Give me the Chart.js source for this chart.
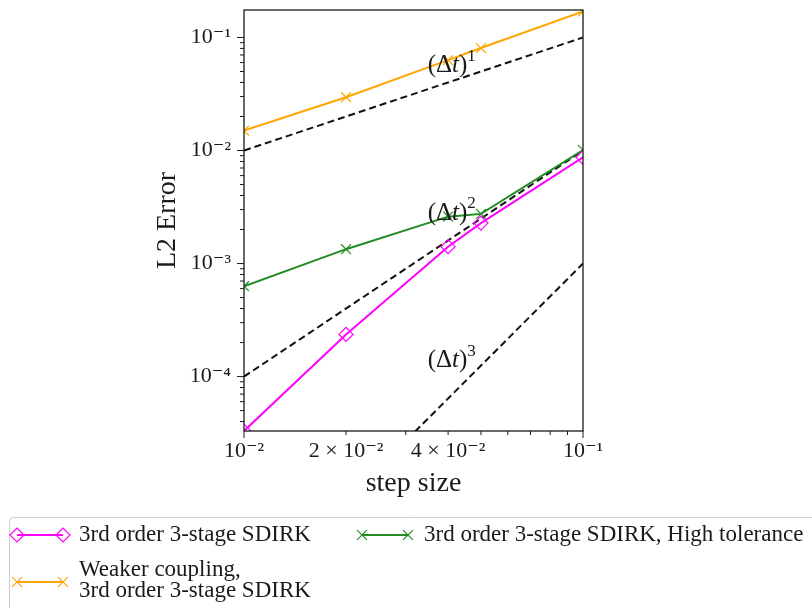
<!DOCTYPE html>
<html lang="en">
<head>
<meta charset="UTF-8">
<title>L2 error vs step size</title>
<script src="https://cdn.jsdelivr.net/npm/chart.js"></script>
<style>
  html, body { margin: 0; padding: 0; background: #fff; }
  #wrap { width: 812px; height: 608px; }
</style>
</head>
<body>
<div id="wrap"><canvas id="errChart" width="812" height="608"></canvas></div>
<script>
// step sizes of the runs and the measured L2 errors
const stepSizes = [0.01, 0.02, 0.04, 0.05, 0.1];
const errSdirk = [3.3e-5, 2.36e-4, 1.41e-3, 2.28e-3, 8.7e-3];
const errWeak = [0.015, 0.0296, 0.063, 0.0806, 0.17];
const errHighTol = [6.3e-4, 1.34e-3, 2.6e-3, 2.75e-3, 0.0101];

// reference slopes (dt)^1, (dt)^2, (dt)^3
const refX = [0.01, 0.1];
const refOrder1 = [0.01, 0.1];
const refOrder2 = [1e-4, 1e-2];
const refOrder3 = [1e-6, 1e-3];
const refLabelX = [0.041, 0.041, 0.041];
const refLabelY = [0.057, 2.8e-3, 1.4e-4];
const refLabelPow = ['1', '2', '3'];

// axis ranges and ticks
const xRange = [0.01, 0.1];
const yRange = [3.3e-5, 0.175];
const xTickVals = [0.01, 0.02, 0.03, 0.04, 0.05, 0.06, 0.07, 0.08, 0.09, 0.1];
const xTickText = ['10⁻²', '2 × 10⁻²', '', '4 × 10⁻²', '', '', '', '', '', '10⁻¹'];
const yDecades = [1e-5, 1e-4, 1e-3, 1e-2, 1e-1];
const yDecadeText = ['10⁻⁵', '10⁻⁴', '10⁻³', '10⁻²', '10⁻¹'];

const SERIF = '"Liberation Serif", "DejaVu Serif", serif';
const INK = '#1a1a1a';

const yTickVals = [];
const yTickText = [];
yDecades.forEach((d, i) => {
  for (let m = 1; m <= 9; m++) {
    const v = d * m;
    if (v >= yRange[0] && v <= yRange[1]) {
      yTickVals.push(v);
      yTickText.push(m === 1 ? yDecadeText[i] : '');
    }
  }
});

const isDecade = v => Math.abs(Math.log10(v) - Math.round(Math.log10(v))) < 1e-9;
const toXY = (xs, ys) => xs.map((x, i) => ({ x: x, y: ys[i] }));

const refLine = (ys) => ({
  label: '', data: toXY(refX, ys), borderColor: '#111', borderWidth: 2,
  borderDash: [7, 4], pointRadius: 0, inLegend: false
});

// frame, tick marks, slope labels and the legend box
const decorations = {
  id: 'decorations',
  afterDatasetsDraw(chart) {
    const { ctx, chartArea: a, scales: { x, y } } = chart;
    ctx.save();

    // slope labels
    refLabelPow.forEach((p, i) => {
      drawOrderLabel(ctx, x.getPixelForValue(refLabelX[i]), y.getPixelForValue(refLabelY[i]), p);
    });

    // frame
    ctx.strokeStyle = INK;
    ctx.lineWidth = 1.3;
    ctx.strokeRect(a.left, a.top, a.right - a.left, a.bottom - a.top);

    // ticks pointing outwards
    ctx.lineWidth = 1;
    ctx.beginPath();
    x.ticks.forEach(t => {
      const px = x.getPixelForValue(t.value);
      const len = isDecade(t.value) ? 7 : 4;
      ctx.moveTo(px, a.bottom);
      ctx.lineTo(px, a.bottom + len);
    });
    y.ticks.forEach(t => {
      const py = y.getPixelForValue(t.value);
      const len = isDecade(t.value) ? 7 : 4;
      ctx.moveTo(a.left, py);
      ctx.lineTo(a.left - len, py);
    });
    ctx.stroke();

    drawLegend(ctx, chart);
    ctx.restore();
  }
};

function drawOrderLabel(ctx, cx, cy, pow) {
  const parts = [
    ['(Δ', '25px ' + SERIF, 0],
    ['t', 'italic 25px ' + SERIF, 0],
    [')', '25px ' + SERIF, 0],
    [pow, '17px ' + SERIF, -9]
  ];
  let total = 0;
  parts.forEach(p => { ctx.font = p[1]; total += ctx.measureText(p[0]).width; });
  let px = cx - total / 2;
  ctx.fillStyle = INK;
  ctx.textBaseline = 'middle';
  ctx.textAlign = 'left';
  parts.forEach(p => {
    ctx.font = p[1];
    ctx.fillText(p[0], px, cy + p[2]);
    px += ctx.measureText(p[0]).width;
  });
}

function drawLegend(ctx, chart) {
  // box runs past the right and bottom edges
  ctx.strokeStyle = '#cccccc';
  ctx.lineWidth = 1;
  ctx.beginPath();
  ctx.roundRect(9.5, 517.5, 840, 130, 4);
  ctx.stroke();

  const slots = [
    { x: 17, y: 535 },
    { x: 362, y: 535 },
    { x: 17, y: 582 }
  ];
  const items = chart.data.datasets.filter(d => d.inLegend !== false);
  items.forEach((ds, i) => {
    const s = slots[i];
    const x1 = s.x, x2 = s.x + 46;
    ctx.strokeStyle = ds.borderColor;
    ctx.lineWidth = 2;
    ctx.setLineDash([]);
    ctx.beginPath();
    ctx.moveTo(x1, s.y);
    ctx.lineTo(x2, s.y);
    ctx.stroke();
    ctx.lineWidth = ds.pointBorderWidth;
    ctx.fillStyle = 'rgba(0,0,0,0)';
    [x1, x2].forEach(px => {
      Chart.helpers.drawPoint(ctx, {
        pointStyle: ds.pointStyle, radius: ds.pointRadius, rotation: 0,
        borderWidth: ds.pointBorderWidth
      }, px, s.y);
    });
    const lines = ds.label.split('\n');
    ctx.fillStyle = INK;
    ctx.font = '23px ' + SERIF;
    ctx.textAlign = 'left';
    ctx.textBaseline = 'middle';
    const lh = 21;
    lines.forEach((ln, k) => {
      ctx.fillText(ln, x2 + 16, s.y - (lines.length - 1) * lh / 2 + k * lh - (lines.length - 1) * 1.5);
    });
  });
}

new Chart(document.getElementById('errChart'), {
  type: 'line',
  data: {
    datasets: [
      {
        label: '3rd order 3-stage SDIRK', data: toXY(stepSizes, errSdirk),
        borderColor: '#ff00ff', borderWidth: 2, pointStyle: 'rectRot', pointRadius: 7,
        pointBorderWidth: 1.2, pointBorderColor: '#ff00ff', pointBackgroundColor: 'rgba(0,0,0,0)'
      },
      {
        label: '3rd order 3-stage SDIRK, High tolerance', data: toXY(stepSizes, errHighTol),
        borderColor: '#228b22', borderWidth: 2, pointStyle: 'crossRot', pointRadius: 7,
        pointBorderWidth: 1.2, pointBorderColor: '#228b22'
      },
      {
        label: 'Weaker coupling,\n3rd order 3-stage SDIRK', data: toXY(stepSizes, errWeak),
        borderColor: '#ffa500', borderWidth: 2, pointStyle: 'crossRot', pointRadius: 7,
        pointBorderWidth: 1.2, pointBorderColor: '#ffa500'
      },
      refLine(refOrder1),
      refLine(refOrder2),
      refLine(refOrder3)
    ]
  },
  options: {
    responsive: false,
    animation: false,
    layout: { padding: { left: 147, top: 10, right: 229, bottom: 104 } },
    elements: { line: { tension: 0 } },
    plugins: { legend: { display: false }, tooltip: { enabled: false } },
    scales: {
      x: {
        type: 'logarithmic', min: xRange[0], max: xRange[1],
        grid: { display: false, drawTicks: false }, border: { display: false },
        ticks: {
          autoSkip: false, maxRotation: 0, minRotation: 0, padding: 7, color: INK,
          font: { family: SERIF, size: 22 }, callback: (v, i) => xTickText[i]
        },
        title: { display: true, text: 'step size', color: INK, font: { family: SERIF, size: 28 }, padding: { top: 0, bottom: 4 } },
        afterBuildTicks: s => { s.ticks = xTickVals.map(v => ({ value: v })); },
        afterFit: s => { s.height = 73; s.paddingLeft = 0; s.paddingRight = 0; }
      },
      y: {
        type: 'logarithmic', min: yRange[0], max: yRange[1],
        grid: { display: false, drawTicks: false }, border: { display: false },
        ticks: {
          autoSkip: false, padding: 13, color: INK,
          font: { family: SERIF, size: 22 }, callback: (v, i) => yTickText[i]
        },
        title: { display: true, text: 'L2 Error', color: INK, font: { family: SERIF, size: 28 }, padding: { top: 4, bottom: 0 } },
        afterBuildTicks: s => { s.ticks = yTickVals.map(v => ({ value: v })); },
        afterFit: s => { s.width = 97; s.paddingTop = 0; s.paddingBottom = 0; }
      }
    }
  },
  plugins: [decorations]
});
</script>
</body>
</html>
